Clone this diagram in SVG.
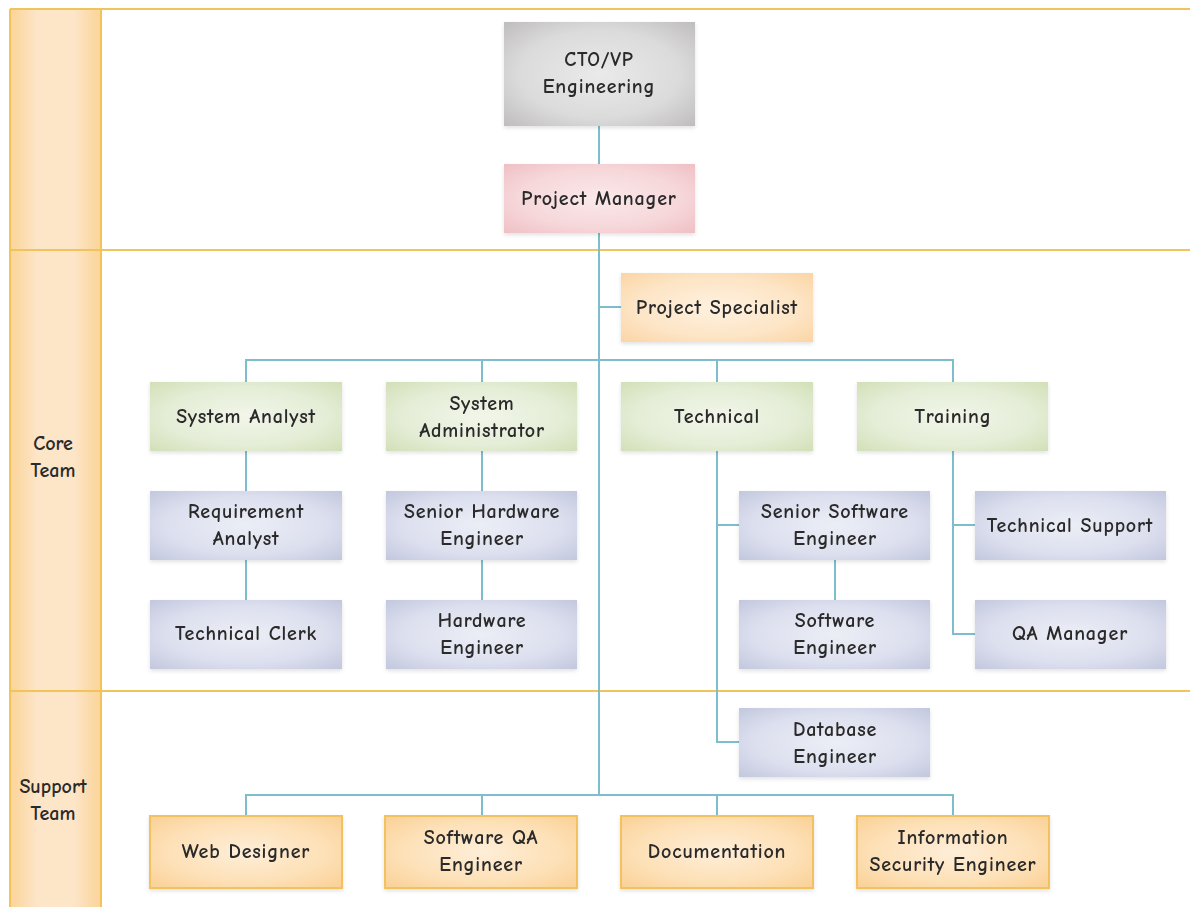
<svg xmlns="http://www.w3.org/2000/svg" width="1190" height="907" viewBox="0 0 1190 907">
<defs>
<radialGradient id="gGray" cx="50%" cy="50%" r="70%"><stop offset="0" stop-color="#ebeaea"/><stop offset="0.6" stop-color="#dcdbdb"/><stop offset="1" stop-color="#bfbdbd"/></radialGradient>
<radialGradient id="gPink" cx="50%" cy="50%" r="70%"><stop offset="0" stop-color="#fbe9ea"/><stop offset="0.6" stop-color="#f6d7da"/><stop offset="1" stop-color="#efc0c5"/></radialGradient>
<radialGradient id="gPeach" cx="50%" cy="50%" r="70%"><stop offset="0" stop-color="#fff1df"/><stop offset="0.6" stop-color="#fde5c6"/><stop offset="1" stop-color="#fbd5a5"/></radialGradient>
<radialGradient id="gGreen" cx="50%" cy="50%" r="70%"><stop offset="0" stop-color="#f2f6ea"/><stop offset="0.6" stop-color="#e4edd6"/><stop offset="1" stop-color="#d2e0b8"/></radialGradient>
<radialGradient id="gBlue" cx="50%" cy="50%" r="70%"><stop offset="0" stop-color="#eceef6"/><stop offset="0.6" stop-color="#dcdfee"/><stop offset="1" stop-color="#c3c8de"/></radialGradient>
<radialGradient id="gOrange" cx="50%" cy="50%" r="70%"><stop offset="0" stop-color="#feeed8"/><stop offset="0.6" stop-color="#fde0b6"/><stop offset="1" stop-color="#fad095"/></radialGradient>
<linearGradient id="gLane" x1="0" y1="0" x2="1" y2="0"><stop offset="0" stop-color="#fbd497"/><stop offset="0.3" stop-color="#fde5c8"/><stop offset="0.7" stop-color="#fde5c8"/><stop offset="1" stop-color="#fbd497"/></linearGradient>
<filter id="sh" x="-10%" y="-10%" width="120%" height="130%"><feGaussianBlur in="SourceAlpha" stdDeviation="2"/><feOffset dx="0" dy="2"/><feComponentTransfer><feFuncA type="linear" slope="0.12"/></feComponentTransfer><feMerge><feMergeNode/><feMergeNode in="SourceGraphic"/></feMerge></filter>
<style>
.n{filter:url(#sh)}
.n rect{stroke:none}
.sup rect{stroke:#f1c25e;stroke-width:2}
.t{font-family:"Comic Neue","Comic Sans MS","DejaVu Sans","Liberation Sans",sans-serif;font-size:20px;font-weight:bold;letter-spacing:0.8px;fill:#2a2a2a;text-anchor:middle}
.c{fill:none;stroke:#7dbdcc;stroke-width:2}
.lane{fill:none;stroke:#f0c45a;stroke-width:2}
</style>
</defs>
<rect width="1190" height="907" fill="#ffffff"/>
<g id="lanes">
<rect x="10" y="9" width="91" height="900" fill="url(#gLane)"/>
<line class="lane" x1="10" y1="9" x2="1190" y2="9"/>
<line class="lane" x1="10" y1="250" x2="1190" y2="250"/>
<line class="lane" x1="10" y1="691" x2="1190" y2="691"/>
<line class="lane" x1="10" y1="9" x2="10" y2="907"/>
<line class="lane" x1="101" y1="9" x2="101" y2="907"/>
<text class="t" x="53" y="450" style="letter-spacing:0">Core</text>
<text class="t" x="53" y="477" style="letter-spacing:0">Team</text>
<text class="t" x="53" y="793" style="letter-spacing:0">Support</text>
<text class="t" x="53" y="820" style="letter-spacing:0">Team</text>
</g>
<g id="connectors">
<path class="c" d="M599 126V795"/>
<path class="c" d="M599 307H621"/>
<path class="c" d="M246 382V360H953V382M482 360V382M717 360V382"/>
<path class="c" d="M246 451V491M246 560V600"/>
<path class="c" d="M482 451V491M482 560V600"/>
<path class="c" d="M717 451V742H739M717 525H739"/>
<path class="c" d="M835 560V600"/>
<path class="c" d="M953 451V634H975M953 525H975"/>
<path class="c" d="M246 816V795H953V816M482 795V816M717 795V816"/>
</g>
<g id="cto" class="n"><rect x="504" y="22" width="191" height="104" fill="url(#gGray)"/><text class="t" x="599" y="66">CTO/VP</text><text class="t" x="599" y="93">Engineering</text></g>
<g id="pm" class="n"><rect x="504" y="164" width="191" height="69" fill="url(#gPink)"/><text class="t" x="599" y="205">Project Manager</text></g>
<g id="ps" class="n"><rect x="621" y="273" width="192" height="69" fill="url(#gPeach)"/><text class="t" x="717" y="314">Project Specialist</text></g>
<g id="sa" class="n"><rect x="150" y="382" width="192" height="69" fill="url(#gGreen)"/><text class="t" x="246" y="423">System Analyst</text></g>
<g id="sysadmin" class="n"><rect x="386" y="382" width="191" height="69" fill="url(#gGreen)"/><text class="t" x="482" y="410">System</text><text class="t" x="482" y="437">Administrator</text></g>
<g id="technical" class="n"><rect x="621" y="382" width="192" height="69" fill="url(#gGreen)"/><text class="t" x="717" y="423">Technical</text></g>
<g id="training" class="n"><rect x="857" y="382" width="191" height="69" fill="url(#gGreen)"/><text class="t" x="953" y="423">Training</text></g>
<g id="ra" class="n"><rect x="150" y="491" width="192" height="69" fill="url(#gBlue)"/><text class="t" x="246" y="518">Requirement</text><text class="t" x="246" y="545">Analyst</text></g>
<g id="she" class="n"><rect x="386" y="491" width="191" height="69" fill="url(#gBlue)"/><text class="t" x="482" y="518">Senior Hardware</text><text class="t" x="482" y="545">Engineer</text></g>
<g id="sse" class="n"><rect x="739" y="491" width="191" height="69" fill="url(#gBlue)"/><text class="t" x="835" y="518">Senior Software</text><text class="t" x="835" y="545">Engineer</text></g>
<g id="ts" class="n"><rect x="975" y="491" width="191" height="69" fill="url(#gBlue)"/><text class="t" x="1070" y="532">Technical Support</text></g>
<g id="tc" class="n"><rect x="150" y="600" width="192" height="69" fill="url(#gBlue)"/><text class="t" x="246" y="640">Technical Clerk</text></g>
<g id="he" class="n"><rect x="386" y="600" width="191" height="69" fill="url(#gBlue)"/><text class="t" x="482" y="627">Hardware</text><text class="t" x="482" y="654">Engineer</text></g>
<g id="se" class="n"><rect x="739" y="600" width="191" height="69" fill="url(#gBlue)"/><text class="t" x="835" y="627">Software</text><text class="t" x="835" y="654">Engineer</text></g>
<g id="qa" class="n"><rect x="975" y="600" width="191" height="69" fill="url(#gBlue)"/><text class="t" x="1070" y="640">QA Manager</text></g>
<g id="dbe" class="n"><rect x="739" y="708" width="191" height="69" fill="url(#gBlue)"/><text class="t" x="835" y="736">Database</text><text class="t" x="835" y="763">Engineer</text></g>
<g id="wd" class="n sup"><rect x="150" y="816" width="192" height="72" fill="url(#gOrange)"/><text class="t" x="246" y="858">Web Designer</text></g>
<g id="sqa" class="n sup"><rect x="385" y="816" width="192" height="72" fill="url(#gOrange)"/><text class="t" x="481" y="844">Software QA</text><text class="t" x="481" y="871">Engineer</text></g>
<g id="doc" class="n sup"><rect x="621" y="816" width="192" height="72" fill="url(#gOrange)"/><text class="t" x="717" y="858">Documentation</text></g>
<g id="ise" class="n sup"><rect x="857" y="816" width="192" height="72" fill="url(#gOrange)"/><text class="t" x="953" y="844">Information</text><text class="t" x="953" y="871">Security Engineer</text></g>
</svg>
